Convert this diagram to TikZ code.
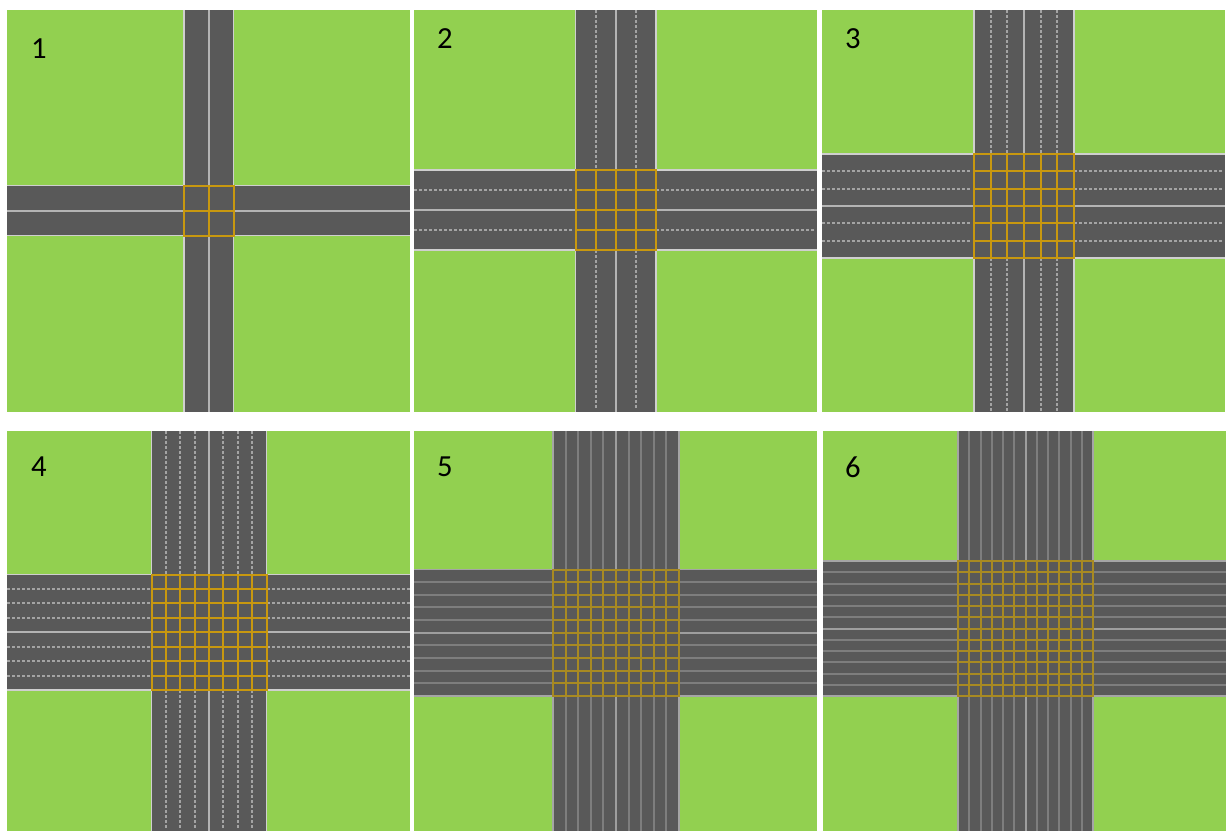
\documentclass[tikz,border=0pt]{standalone}
\usepackage{fontspec}
\setmainfont{Carlito}
\definecolor{grass}{HTML}{92D050}
\definecolor{asphalt}{HTML}{595959}
\definecolor{gridy}{HTML}{C8980F}
\definecolor{gridthin}{HTML}{A88A22}
\definecolor{edgeline}{HTML}{CFCFCF}
\definecolor{midline}{HTML}{B4B4B4}
\definecolor{laneline}{HTML}{A4A4A4}
\definecolor{softline}{HTML}{7E7E7E}
\tikzset{
  grassbox/.style={fill=grass,draw=none},
  roadbox/.style={fill=asphalt,draw=none},
  edgefill/.style={fill=edgeline},
  midfill/.style={fill=midline},
  lanefill/.style={fill=laneline},
  gridfill/.style={fill=gridy},
  softroad/.style={
    edgefill/.style={fill=softline!70!white},
    midfill/.style={fill=softline!75!white},
    lanefill/.style={fill=softline},
    gridfill/.style={fill=gridthin}},
  numlabel/.style={font=\fontsize{23}{23}\selectfont,text=black,inner sep=0pt,anchor=center}
}
\newif\ifsoftlanes
\def\gw{1.0}
% solid vertical / horizontal bars
\newcommand{\vbarr}[5]{\fill[#1] ({#2-#5},{#3}) rectangle ({#2+#5},{#4});}
\newcommand{\hbarr}[5]{\fill[#1] ({#3},{#2-#5}) rectangle ({#4},{#2+#5});}
% dashed lane pieces
\newcommand{\vlane}[3]{%
  \ifsoftlanes \vbarr{lanefill}{#1}{#2}{#3}{1.0}\else
    \pgfmathsetmacro{\dnext}{#2+5}\pgfmathsetmacro{\dend}{#3-3}%
    \foreach \d in {#2,\dnext,...,\dend}{\fill[lanefill] ({#1-1.0},\d) rectangle ({#1+1.0},\d+3);}
  \fi}
\newcommand{\hlane}[3]{%
  \ifsoftlanes \hbarr{lanefill}{#1}{#2}{#3}{1.0}\else
    \pgfmathsetmacro{\dnext}{#2+5}\pgfmathsetmacro{\dend}{#3-3}%
    \foreach \d in {#2,\dnext,...,\dend}{\fill[lanefill] (\d,{#1-1.0}) rectangle (\d+3,{#1+1.0});}
  \fi}
% #1 x0, #2 y0, #3 x1, #4 y1, #5 vl, #6 vr, #7 ht, #8 hb, #9 half lanes
\newcommand{\crossing}[9]{%
  \fill[grassbox] (#1,#2) rectangle (#3,#4);
  \fill[roadbox] (#5,#2) rectangle (#6,#4);
  \fill[roadbox] (#1,#7) rectangle (#3,#8);
  \pgfmathsetmacro{\stepv}{(#6-#5)/(2*#9)}
  \pgfmathsetmacro{\steph}{(#8-#7)/(2*#9)}
  \pgfmathtruncatemacro{\nl}{2*#9}
  \foreach \i in {0,...,\nl}{
    \pgfmathsetmacro{\xx}{#5+\i*\stepv}
    \pgfmathsetmacro{\yy}{#7+\i*\steph}
    \ifnum\i=0 \def\kind{1}\else
      \ifnum\i=\nl \def\kind{1}\else
        \ifnum\i=#9 \def\kind{2}\else \def\kind{3}\fi
      \fi
    \fi
    \ifnum\kind=1
      \vbarr{edgefill}{\xx}{#2}{#7}{0.8}\vbarr{edgefill}{\xx}{#8}{#4}{0.8}
      \hbarr{edgefill}{\yy}{#1}{#5}{0.8}\hbarr{edgefill}{\yy}{#6}{#3}{0.8}
    \fi
    \ifnum\kind=2
      \vbarr{midfill}{\xx}{#2}{#7}{1.0}\vbarr{midfill}{\xx}{#8}{#4}{1.0}
      \hbarr{midfill}{\yy}{#1}{#5}{1.0}\hbarr{midfill}{\yy}{#6}{#3}{1.0}
    \fi
    \ifnum\kind=3
      \vlane{\xx}{#2}{#7}\vlane{\xx}{#8}{#4}
      \hlane{\yy}{#1}{#5}\hlane{\yy}{#6}{#3}
    \fi
  }
  \foreach \i in {0,...,\nl}{
    \pgfmathsetmacro{\xx}{#5+\i*\stepv}
    \pgfmathsetmacro{\yy}{#7+\i*\steph}
    \vbarr{gridfill}{\xx}{#7-\gw}{#8+\gw}{\gw}
    \hbarr{gridfill}{\yy}{#5-\gw}{#6+\gw}{\gw}
  }
}
\begin{document}
\begin{tikzpicture}[x=0.75pt,y=-0.75pt]
\useasboundingbox (0,0) rectangle (1227,831);
\fill[white] (0,0) rectangle (1227,831);
\crossing{7}{10}{410}{412}{184}{233.5}{185.5}{235.5}{1}
\crossing{414}{10}{817}{412}{575.5}{656}{170}{250}{2}
\crossing{822}{10}{1225}{412}{974}{1074}{154}{258}{3}
\crossing{7}{431}{410}{831}{151.5}{266.5}{574.5}{690}{4}
\begin{scope}[softroad]
\softlanestrue
\crossing{414}{431}{817}{831}{553}{679}{569.5}{696}{5}
\crossing{823}{431}{1226}{831}{958}{1093}{561}{696}{6}
\end{scope}
\node[numlabel] (n1) at (39,49) {1};
\node[numlabel] (n2) at (445,39) {2};
\node[numlabel] (n3) at (853,39) {3};
\node[numlabel] (n4) at (39,467) {4};
\node[numlabel] (n5) at (445,467) {5};
\node[numlabel] (n6) at (853,467) {6};
\end{tikzpicture}
\end{document}
